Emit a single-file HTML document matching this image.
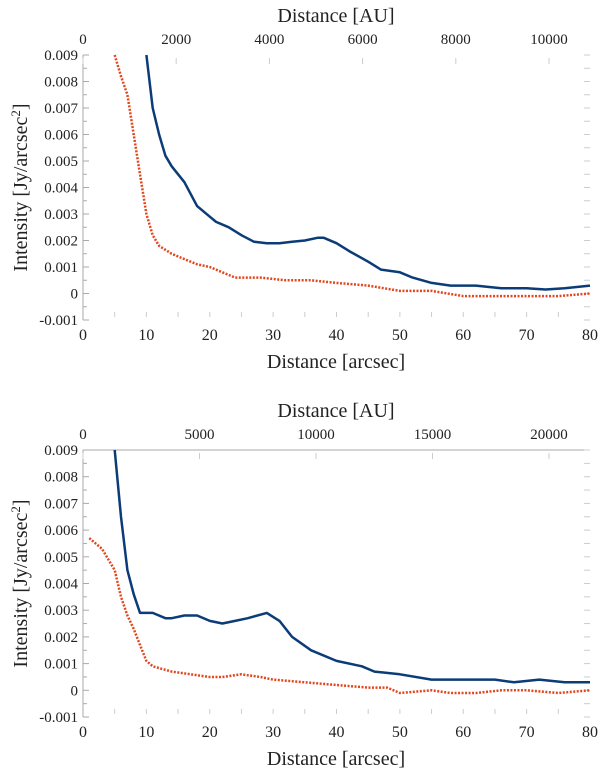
<!DOCTYPE html>
<html><head><meta charset="utf-8"><style>
body{margin:0;background:#fff}
text{font-family:"Liberation Serif","DejaVu Serif",serif !important;fill:#222}
</style></head><body>
<svg id="c" width="600" height="771" xmlns="http://www.w3.org/2000/svg" font-family="Liberation Serif, serif"></svg>
<script>
const topBlueX=[10,11,12,13,14,16,18,20,21,23,25,27,29,31,33,35,37,38,40,42,45,47,50,52,55,58,62,66,70,73,76,80];
const topBlueY=[0.009,0.007,0.006,0.0052,0.0048,0.0042,0.0033,0.0029,0.0027,0.0025,0.0022,0.00195,0.0019,0.0019,0.00195,0.002,0.0021,0.0021,0.0019,0.0016,0.0012,0.0009,0.0008,0.0006,0.0004,0.0003,0.0003,0.0002,0.0002,0.00015,0.0002,0.0003];
const topRedX=[5,6,7,8,9,10,11,12,14,16,18,20,22,24,28,32,36,40,45,50,55,60,65,70,75,80];
const topRedY=[0.009,0.0082,0.0075,0.006,0.0045,0.003,0.0022,0.0018,0.0015,0.0013,0.0011,0.001,0.0008,0.0006,0.0006,0.0005,0.0005,0.0004,0.0003,0.0001,0.0001,-0.0001,-0.0001,-0.0001,-0.0001,0];
const botBlueX=[5,6,7,8,9,11,13,14,16,18,20,22,24,26,29,31,33,36,40,44,46,50,55,60,65,68,72,76,80];
const botBlueY=[0.009,0.0065,0.0045,0.0036,0.0029,0.0029,0.0027,0.0027,0.0028,0.0028,0.0026,0.0025,0.0026,0.0027,0.0029,0.0026,0.002,0.0015,0.0011,0.0009,0.0007,0.0006,0.0004,0.0004,0.0004,0.0003,0.0004,0.0003,0.0003];
const botRedX=[1,3,5,6,7,8,9,10,11,14,17,20,22,25,28,30,35,40,45,48,50,55,58,62,66,70,75,80];
const botRedY=[0.0057,0.0053,0.0045,0.0035,0.0028,0.0023,0.0017,0.0011,0.0009,0.0007,0.0006,0.0005,0.0005,0.0006,0.0005,0.0004,0.0003,0.0002,0.0001,0.0001,-0.0001,0,-0.0001,-0.0001,0,0,-0.0001,0];
const xTicks=[0,10,20,30,40,50,60,70,80];
const yTicks=[-0.001,0,0.001,0.002,0.003,0.004,0.005,0.006,0.007,0.008,0.009];
const topAuTicks=[0,2000,4000,6000,8000,10000];
const botAuTicks=[0,5000,10000,15000,20000];
const topAuPerArc=136, botAuPerArc=272;

const svg=document.getElementById('c');
const NS='http://www.w3.org/2000/svg';
function el(t,a,p){const e=document.createElementNS(NS,t);for(const k in a)e.setAttribute(k,a[k]);(p||svg).appendChild(e);return e;}
function txt(s,a,p){a['font-family']='Liberation Serif, serif';const e=el('text',a,p);e.textContent=s;return e;}

function panel(name,yTop,yBot,box,bx,by,rx,ry,auTicks,auPer){
  const g=el('g',{});
  
  
  const L=83,R=590;
  const X=v=>L+v*(R-L)/80;
  const Y=v=>yBot-(v+0.001)*(yBot-yTop)/0.010;
  const ax=el('line',{x1:L,y1:yTop,x2:L,y2:yBot,stroke:'#aaa','stroke-width':1},g);
  
  if(box){
    el('line',{x1:L,y1:yTop,x2:R,y2:yTop,stroke:'#aaa'},g);
  }
  for(let i=0;i<=20;i++){const v=-0.001+i*0.0005;el('line',{x1:L,y1:Y(v),x2:L+(i%2?4:6),y2:Y(v),stroke:'#aaa'},g);el('line',{x1:R-6,y1:Y(v),x2:R,y2:Y(v),stroke:'#ccc'},g);}
  yTicks.forEach(v=>{const t=txt(v===0?'0':v.toFixed(3),{x:L-5,y:Y(v)+5,'font-size':15,'text-anchor':'end'},g);});
  for(let v=5;v<80;v+=5){el('line',{x1:X(v),y1:yBot-8,x2:X(v),y2:yBot-3,stroke:'#ccc'},g);}
  xTicks.forEach(v=>{const t=txt(String(v),{x:X(v),y:yBot+20,'font-size':16,'text-anchor':'middle'},g);});
  auTicks.forEach(v=>{const xp=X(v/auPer);el('line',{x1:xp,y1:yTop+3,x2:xp,y2:yTop+9,stroke:'#ccc'},g);const t=txt(String(v),{x:xp,y:yTop-11,'font-size':15,'text-anchor':'middle'},g);});
  const at=txt('Distance [AU]',{x:336,y:yTop-33,'font-size':20,'text-anchor':'middle'},g);
  
  const xt=txt('Distance [arcsec]',{x:336,y:yBot+48,'font-size':20,'text-anchor':'middle'},g);
  
  const yt=el('text',{x:0,y:0,'font-size':20,'font-family':'Liberation Serif, serif','text-anchor':'middle',transform:`translate(27,${(yTop+yBot)/2}) rotate(-90)`},g);
  yt.innerHTML='Intensity [Jy/arcsec<tspan dy="-7" font-size="13">2</tspan><tspan dy="7">]</tspan>';
  
  const mk=(xs,ys,col,dash,nm)=>{const p=el('path',{d:xs.map((x,i)=>(i?'L':'M')+X(x).toFixed(1)+','+Y(ys[i]).toFixed(1)).join(''),fill:'none',stroke:col,'stroke-width':2.5,'stroke-dasharray':dash?'2,1.5':'none','stroke-linejoin':'round'},g);};
  mk(bx,by,'#0b3c78',false,'blue-series');
  mk(rx,ry,'#e2461c',true,'red-dotted-series');
}
panel('top-panel',55,320,false,topBlueX,topBlueY,topRedX,topRedY,topAuTicks,topAuPerArc);
panel('bottom-panel',450,717,true,botBlueX,botBlueY,botRedX,botRedY,botAuTicks,botAuPerArc);
</script>
</body></html>
